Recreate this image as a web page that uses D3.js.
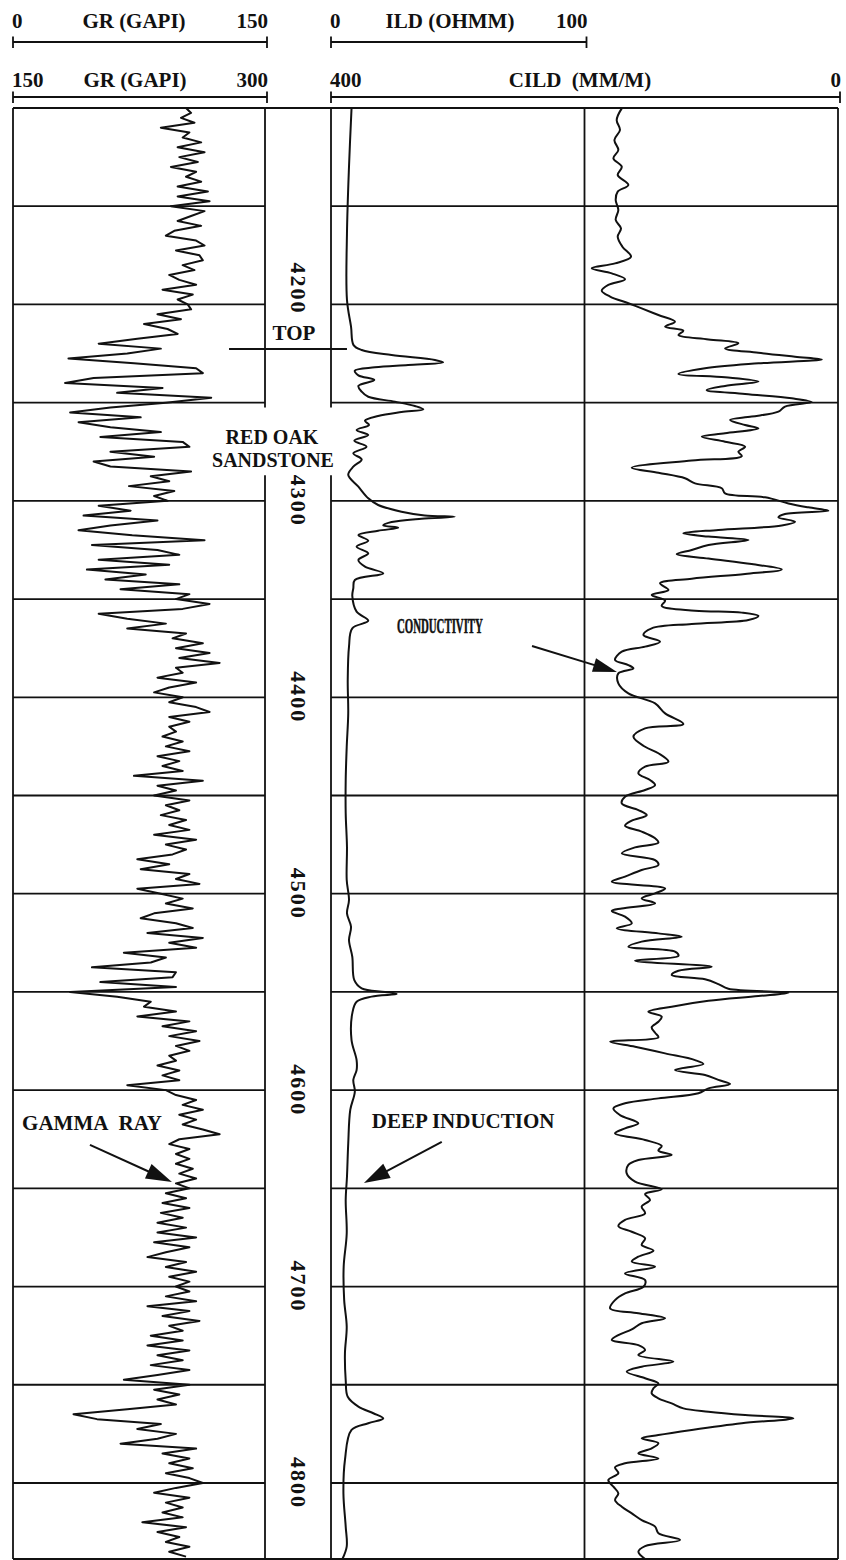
<!DOCTYPE html>
<html><head><meta charset="utf-8">
<script src="https://cdn.jsdelivr.net/npm/d3@7"></script>
<style>
body{margin:0;background:#fff}
svg{display:block}
text{font-family:"Liberation Serif","Times New Roman",serif;font-weight:bold;fill:#111}
</style>
</head><body>
<svg id="c" width="846" height="1560"></svg>
<script>
// ---------------- DATA ----------------
const depthTop = 4100, depthBottom = 4838.7;   // feet
const grStartDepth = 4100, grStep = 2.5;        // GR sampled every 2.5 ft
const grValues = [
103,106,100,108,88,105,101,112,98,114,
99,110,94,109,103,112,98,116,98,117,
94,114,106,98,112,96,91,109,114,97,
111,113,101,108,93,99,109,89,107,98,
104,106,86,100,78,92,98,74,51,88,
68,33,72,109,113,48,31,89,62,118,
91,58,34,76,39,58,88,52,101,105,
58,84,48,58,106,82,93,69,96,84,
92,51,70,42,86,58,39,71,114,47,
86,99,51,93,44,79,55,99,64,105,
97,117,101,51,68,91,68,103,95,113,
97,117,99,123,97,101,86,109,93,84,
101,93,109,117,93,105,93,97,89,101,
91,105,86,99,89,101,72,113,86,97,
84,105,91,99,88,103,93,105,84,109,
91,103,95,74,93,76,105,97,111,74,
88,101,91,107,84,76,97,107,80,113,
93,109,66,91,82,47,97,95,52,97,
34,62,82,78,97,74,105,89,109,93,
111,97,105,93,97,86,99,89,99,68,
91,97,109,101,113,99,109,101,113,123,
99,93,105,97,105,97,107,99,109,97,
105,91,103,89,105,88,101,86,103,86,
109,84,105,91,80,103,91,109,93,105,
97,105,91,109,80,105,89,111,93,101,
82,101,80,105,86,101,82,105,86,66,
105,84,99,86,97,68,36,50,88,74,
97,86,64,109,89,105,93,107,91,105,
113,97,84,105,91,101,89,101,77,103,
86,99,91,105,93,103];

const ildDepth = [4100.2,4129.9,4163.8,4197.7,4211.3,4220.7,4223.2,4225.8,4228.3,4229.5,4230.8,4232.0,4233.7,4236.1,4238.5,4241.5,4244.4,4247.0,4249.5,4251.7,4253.4,4254.8,4256.8,4259.2,4261.4,4263.9,4266.5,4269.4,4272.4,4275.8,4278.9,4282.6,4286.8,4292.8,4298.7,4302.1,4305.5,4307.4,4308.1,4309.1,4310.8,4312.5,4313.7,4315.2,4317.4,4320.3,4323.3,4326.7,4330.1,4333.5,4336.9,4340.3,4344.5,4348.4,4356.4,4361.0,4364.9,4374.2,4391.2,4408.2,4425.2,4442.1,4459.1,4476.1,4493.0,4503.2,4510.0,4516.8,4523.6,4532.1,4544.0,4548.2,4550.0,4551.1,4552.4,4555.0,4560.9,4574.5,4584.7,4589.8,4594.8,4600.8,4610.1,4627.1,4644.1,4656.0,4673.0,4689.9,4706.9,4720.4,4734.0,4747.6,4756.1,4761.1,4764.5,4767.1,4769.6,4773.0,4788.3,4805.3,4822.2,4832.4,4838.7];
const ildValues = [8.1,7.1,6.3,6.3,7.9,8.9,12.1,23.9,41.0,44.2,30.4,17.3,9.4,10.8,17.1,10.8,12.1,14.7,25.2,33.1,36.4,27.8,18.6,13.4,15.0,10.1,14.7,9.2,14.0,8.8,12.1,8.8,6.8,10.8,14.7,18.6,27.8,37.0,48.8,35.7,23.9,20.6,26.5,18.6,10.8,14.7,10.1,14.7,10.8,13.4,20.6,9.4,8.8,8.4,10.1,14.7,8.4,7.1,6.6,6.8,6.2,5.8,5.8,6.3,6.2,7.1,6.3,7.9,7.1,8.4,9.2,12.1,21.3,25.9,16.0,10.1,8.4,8.1,10.1,10.1,8.8,9.4,7.6,6.8,6.3,5.8,6.2,5.0,5.2,6.2,5.5,5.8,6.6,10.8,16.7,20.6,14.7,8.1,5.5,4.9,5.8,6.2,4.5];

const cildDepth = [
4100.2,4106.1,4111.2,4116.3,4121.4,4125.6,4129.9,4134.1,4139.2,4142.6,4146.8,4151.9,4157.0,4161.3,4165.5,4170.6,4175.7,4179.1,4181.6,4184.2,
4187.2,4190.1,4193.0,4196.0,4199.4,4202.0,4205.4,4208.8,4211.3,4213.4,4215.6,4217.8,4219.8,4222.4,4224.6,4226.6,4228.0,4230.0,4232.5,4235.4,
4237.1,4239.3,4241.5,4243.6,4245.6,4247.8,4249.7,4252.0,4254.6,4257.1,4258.8,4261.4,4263.1,4265.6,4267.3,4269.9,4272.4,4275.0,4277.2,4279.5,
4283.1,4285.7,4288.5,4291.1,4293.6,4296.2,4298.2,4301.3,4303.3,4305.0,4306.7,4308.4,4310.6,4312.5,4314.8,4316.5,4318.2,4319.9,4322.5,4325.0,
4327.1,4329.4,4332.2,4334.9,4337.2,4339.6,4342.0,4345.4,4347.9,4350.8,4353.5,4355.9,4356.9,4358.6,4360.7,4362.7,4364.9,4368.3,4371.7,4374.2,
4376.8,4381.0,4383.6,4385.3,4387.8,4392.9,4398.0,4403.1,4408.2,4413.6,4415.8,4420.1,4425.2,4428.5,4432.8,4435.3,4438.7,4442.1,4444.7,4447.2,
4450.6,4454.0,4457.4,4460.0,4462.8,4465.4,4468.4,4471.8,4474.0,4476.4,4479.5,4482.9,4485.4,4487.9,4491.3,4493.9,4497.3,4499.8,4502.4,4504.9,
4507.5,4508.8,4511.7,4515.1,4517.6,4520.2,4521.9,4524.4,4527.0,4529.5,4531.7,4534.1,4537.2,4539.2,4541.4,4543.6,4546.0,4548.4,4550.4,4552.1,
4554.5,4557.5,4560.1,4562.6,4565.2,4568.0,4570.8,4573.1,4575.3,4577.9,4581.3,4584.7,4586.7,4589.8,4592.3,4594.8,4596.9,4599.1,4601.6,4604.2,
4606.7,4609.3,4612.7,4616.9,4619.5,4622.0,4625.4,4628.4,4630.8,4633.0,4635.6,4638.1,4642.4,4646.6,4650.5,4652.9,4655.9,4659.3,4662.7,4666.1,
4669.2,4672.1,4675.4,4678.8,4681.7,4684.8,4687.3,4689.9,4693.3,4696.7,4700.1,4703.5,4706.9,4711.1,4713.6,4716.2,4718.7,4721.8,4724.7,4727.2,
4729.8,4732.3,4734.9,4738.2,4740.8,4743.3,4746.7,4749.3,4751.8,4754.4,4756.9,4759.5,4762.0,4763.7,4765.4,4767.1,4769.6,4773.0,4775.6,4777.3,
4779.8,4782.4,4784.9,4787.5,4790.0,4792.0,4795.1,4798.5,4801.9,4805.3,4808.7,4812.1,4815.5,4818.9,4822.2,4825.6,4829.0,4832.1,4835.0,4838.7];
const cildValues = [
170.6,174.6,172.0,176.4,173.3,177.2,170.6,173.8,165.4,173.8,175.4,173.3,175.4,171.2,173.8,170.1,163.3,175.9,194.3,178.5,
168.0,181.2,186.4,179.8,165.4,154.9,141.7,128.6,136.4,122.0,125.9,102.2,78.6,89.1,62.8,33.9,12.8,62.8,104.9,125.9,
89.1,62.8,89.1,103.6,73.3,36.5,20.7,41.8,47.0,68.1,85.1,73.3,62.8,89.1,107.5,89.1,73.3,78.6,75.9,115.4,
162.7,141.7,120.7,112.8,91.7,89.1,57.5,39.1,23.4,7.6,41.8,47.0,33.9,44.4,94.4,122.0,102.2,70.7,102.2,115.4,
127.2,102.2,68.1,44.4,73.3,115.4,140.4,133.8,147.0,136.4,139.1,112.8,75.9,62.8,70.7,115.4,147.0,153.5,140.4,152.2,
170.6,175.9,165.4,161.4,173.3,173.3,165.4,144.3,136.4,122.0,152.2,161.4,152.2,141.7,133.8,152.2,157.5,148.3,144.3,152.2,
168.0,170.6,157.5,150.9,162.7,168.0,154.9,144.3,141.7,160.1,170.6,144.3,141.7,154.9,168.0,178.5,136.4,144.3,154.9,144.3,
170.6,178.5,168.0,162.7,174.6,141.7,123.3,154.9,165.4,128.6,125.9,160.1,99.6,125.9,131.2,104.9,94.4,86.5,39.1,62.8,
102.2,131.2,149.6,139.1,141.7,147.0,144.3,141.7,179.8,160.1,136.4,112.8,106.2,128.6,104.9,94.4,85.1,102.2,110.1,141.7,
168.0,177.2,172.0,157.5,168.0,175.9,152.2,139.1,141.7,131.2,157.5,165.4,166.7,160.1,139.1,152.2,148.3,154.9,152.2,168.0,
173.3,162.7,152.2,154.9,145.6,157.5,162.7,144.3,168.0,152.2,153.5,168.0,175.9,179.8,157.5,136.4,154.9,162.7,173.3,178.5,
157.5,152.2,157.5,129.9,154.9,166.7,152.2,141.7,145.6,147.0,141.7,131.2,122.0,102.2,73.3,35.2,75.9,115.4,141.7,154.9,
141.7,147.0,157.5,141.7,168.0,175.9,173.3,181.2,177.2,173.3,175.9,170.6,162.7,154.9,144.3,141.7,124.6,152.2,157.5,152.2];

const gridDepths = [4150,4200,4250,4300,4350,4400,4450,4500,4550,4600,4650,4700,4750,4800];
const depthLabels = [4200,4300,4400,4500,4600,4700,4800];
const grDomain = [0,150], grBackupDomain = [150,300], ildDomain = [0,100], cildDomain = [400,0];

// ---------------- LAYOUT / SCALES ----------------
const ink = "#111";
const svg = d3.select("#c");
const y = d3.scaleLinear().domain([depthTop, depthBottom]).range([108, 1559]);
const xGR = d3.scaleLinear().domain(grDomain).range([13, 265]);
const xGR2 = d3.scaleLinear().domain(grBackupDomain).range([13, 265]);
const xCILD = d3.scaleLinear().domain(cildDomain).range([331, 838]);
const xILD = d3.scaleLinear().domain(ildDomain).range([331, xCILD(200)]);
const depthCenter = (xGR.range()[1] + xCILD.range()[0]) / 2;

function hline(x1, x2, yy, w) {
  svg.append("line").attr("x1", x1).attr("x2", x2).attr("y1", yy).attr("y2", yy)
    .attr("stroke", ink).attr("stroke-width", w || 1.8);
}
function vline(xx, y1, y2, w) {
  svg.append("line").attr("x1", xx).attr("x2", xx).attr("y1", y1).attr("y2", y2)
    .attr("stroke", ink).attr("stroke-width", w || 1.8);
}
function txt(s, xx, yy, anchor, size) {
  return svg.append("text").attr("x", xx).attr("y", yy).attr("text-anchor", anchor || "start")
    .attr("font-size", size || 21).text(s);
}

// ---------------- HEADER ----------------
function scaleBar(scale, yBar, yText, title, titleX) {
  const [r0, r1] = scale.range(), [d0, d1] = scale.domain();
  const e = r1 + 2;
  hline(r0, e, yBar, 1.8);
  vline(r0, yBar - 5.5, yBar + 6, 1.8);
  vline(e, yBar - 5.5, yBar + 6, 1.8);
  txt(d0, r0 - 1, yText, "start");
  txt(title, titleX, yText, "middle").style("white-space", "pre");
  txt(d1, e + 1, yText, "end");
}
scaleBar(xGR, 42, 28, "GR (GAPI)", 134);
scaleBar(xILD, 42, 28, "ILD (OHMM)", 450);
scaleBar(xGR2, 97, 87, "GR (GAPI)", 135);
scaleBar(xCILD, 97, 87, "CILD  (MM/M)", 580);

// ---------------- FRAME & GRID ----------------
const yTop = y(depthTop), yBot = y(depthBottom);
hline(xGR.range()[0], xCILD.range()[1], yTop, 1.8);
hline(xGR.range()[0], xCILD.range()[1], yBot, 2);
gridDepths.forEach(d => {
  hline(xGR.range()[0], xGR.range()[1], y(d));
  hline(xCILD.range()[0], xCILD.range()[1], y(d));
});
vline(xGR.range()[0], yTop, yBot);
vline(xCILD(200), yTop, yBot);
vline(xCILD.range()[1], yTop, yBot);
// track borders interrupted by the formation label
const gapTop = 4252.5, gapBottom = 4287;
[xGR.range()[1], xCILD.range()[0]].forEach(xx => {
  vline(xx, yTop, y(gapTop));
  vline(xx, y(gapBottom), yBot);
});

// ---------------- DEPTH LABELS ----------------
const labelNudge = {4200: -16};
depthLabels.forEach(d => {
  svg.append("text")
    .attr("transform", `translate(${depthCenter},${y(d) + (labelNudge[d] || 0)}) rotate(90)`)
    .attr("text-anchor", "middle").attr("dominant-baseline", "central")
    .attr("font-size", 22).attr("letter-spacing", 2).text(d);
});

// ---------------- CURVES ----------------
const grData = grValues.map((v, i) => ({d: grStartDepth + i * grStep, v}));
const ildData = ildDepth.map((d, i) => ({d, v: ildValues[i]}));
const cildData = cildDepth.map((d, i) => ({d, v: cildValues[i]}));

svg.append("path").datum(grData)
  .attr("d", d3.line().x(p => xGR(p.v)).y(p => y(p.d)))
  .attr("fill", "none").attr("stroke", ink).attr("stroke-width", 2).attr("stroke-linejoin", "round");
svg.append("path").datum(ildData)
  .attr("d", d3.line().curve(d3.curveCatmullRom.alpha(0.5)).x(p => xILD(p.v)).y(p => y(p.d)))
  .attr("fill", "none").attr("stroke", ink).attr("stroke-width", 2);
svg.append("path").datum(cildData)
  .attr("d", d3.line().curve(d3.curveCatmullRom.alpha(0.5)).x(p => xCILD(p.v)).y(p => y(p.d)))
  .attr("fill", "none").attr("stroke", ink).attr("stroke-width", 2);

// ---------------- ANNOTATIONS ----------------
function arrow(x1, y1, x2, y2, len, w) {
  const dx = x2 - x1, dy = y2 - y1, L = Math.hypot(dx, dy), ux = dx / L, uy = dy / L;
  const bx = x2 - ux * len, by = y2 - uy * len;
  svg.append("line").attr("x1", x1).attr("y1", y1).attr("x2", bx + ux * 4).attr("y2", by + uy * 4)
    .attr("stroke", ink).attr("stroke-width", 2);
  svg.append("polygon")
    .attr("points", [[x2, y2], [bx - uy * w, by + ux * w], [bx + uy * w, by - ux * w]].map(p => p.join(",")).join(" "))
    .attr("fill", ink);
}
// formation top
txt("TOP", depthCenter - 4, y(4218.1), "middle");
hline(xGR(128.6), xILD(6.3), y(4222.7), 1.8);
txt("RED OAK", 272, y(4271.2), "middle", 20);
txt("SANDSTONE", 273, y(4283.0), "middle", 20);

// conductivity
txt("CONDUCTIVITY", xCILD(348), y(4367.3), "start", 22)
  .attr("textLength", 86).attr("lengthAdjust", "spacingAndGlyphs")
  .attr("stroke", ink).attr("stroke-width", 0.6);
arrow(xCILD(241.4), y(4373.9), xCILD(174.4), y(4387.1), 24, 7);

// gamma ray
txt("GAMMA RAY", xGR(5.4), y(4620.3), "start").attr("word-spacing", 6);
arrow(xGR(45.8), y(4627.9), xGR(94.6), y(4646.8), 26, 8);

// deep induction
txt("DEEP INDUCTION", xILD(16.1), y(4619.3), "start");
arrow(xILD(43.7), y(4626.4), xILD(13.0), y(4647.3), 26, 8);
</script>
</body></html>
